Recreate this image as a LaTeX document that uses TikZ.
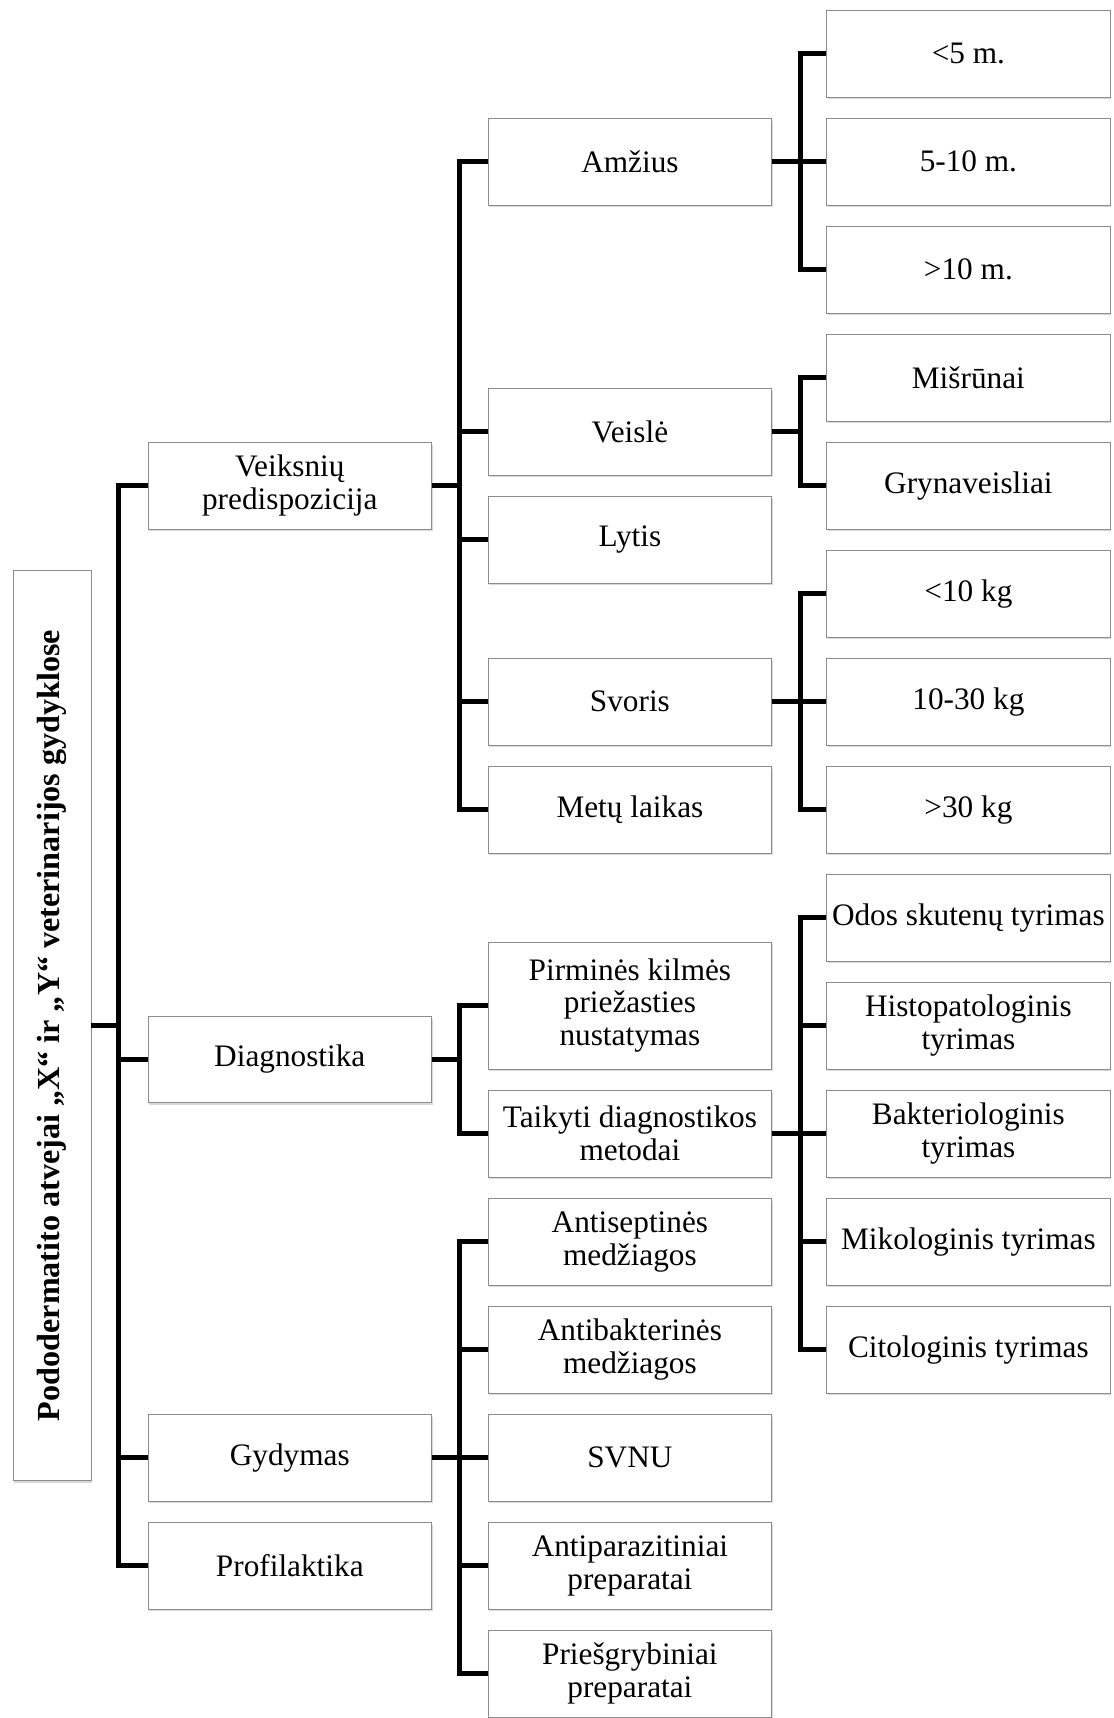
\documentclass[tikz,border=0pt]{standalone}
\usepackage{fontspec}
\setmainfont{Liberation Serif}
\usepackage{tikz}
\usetikzlibrary{positioning,shadows}

\begin{document}
\begin{tikzpicture}[
    x=0.02cm, y=-0.02cm,
    box/.style={draw=black!45, fill=white, rectangle, minimum width=5.67cm,
                minimum height=1.73cm, align=center, inner xsep=1pt,
                font=\fontsize{17.8}{18.7}\selectfont,
                drop shadow={shadow xshift=0.6pt, shadow yshift=-1.4pt, opacity=0.3}},
    rootbox/.style={box, rotate=90, minimum width=18.22cm, minimum height=1.56cm,
                font=\fontsize{18.3}{19}\selectfont\bfseries},
    link/.style={line width=2.6pt}
]
\useasboundingbox (0,0) rectangle (1113,1718);

% Root
\node[rootbox] (root) at (52,1025.4) {Pododermatito atvejai „X“ ir „Y“ veterinarijos gydyklose};

% Level 1
\node[box] (veik) at (289.8,485.7)  {Veiksnių\\predispozicija};
\node[box] (diag) at (289.8,1059.4) {Diagnostika};
\node[box] (gyd)  at (289.8,1457.7) {Gydymas};
\node[box] (prof) at (289.8,1565.7) {Profilaktika};

% Level 2
\node[box] (amz)    at (629.9,161.7)  {Amžius};
\node[box] (veisl)  at (629.9,431.7)  {Veislė};
\node[box] (lyt)    at (629.9,539.7)  {Lytis};
\node[box] (svor)   at (629.9,701.7)  {Svoris};
\node[box] (metu)   at (629.9,809.7)  {Metų laikas};
\node[box, minimum height=2.54cm] (pirm) at (629.9,1005.5)
      {Pirminės kilmės\\priežasties\\nustatymas};
\node[box] (taik)   at (629.9,1133.7) {Taikyti diagnostikos\\metodai};
\node[box] (antis)  at (629.9,1241.7) {Antiseptinės\\medžiagos};
\node[box] (antib)  at (629.9,1349.7) {Antibakterinės\\medžiagos};
\node[box] (svnu)   at (629.9,1457.7) {SVNU};
\node[box] (antip)  at (629.9,1565.7) {Antiparazitiniai\\preparatai};
\node[box] (priesg) at (629.9,1673.7) {Priešgrybiniai\\preparatai};

% Level 3
\node[box] (a1) at (968.4,53.7)   {<5 m.};
\node[box] (a2) at (968.4,161.7)  {5-10 m.};
\node[box] (a3) at (968.4,269.7)  {>10 m.};
\node[box] (v1) at (968.4,377.7)  {Mišrūnai};
\node[box] (v2) at (968.4,485.7)  {Grynaveisliai};
\node[box] (s1) at (968.4,593.7)  {<10 kg};
\node[box] (s2) at (968.4,701.7)  {10-30 kg};
\node[box] (s3) at (968.4,809.7)  {>30 kg};
\node[box] (t1) at (968.4,917.7)  {Odos skutenų tyrimas};
\node[box] (t2) at (968.4,1025.7) {Histopatologinis\\tyrimas};
\node[box] (t3) at (968.4,1133.7) {Bakteriologinis\\tyrimas};
\node[box] (t4) at (968.4,1241.7) {Mikologinis tyrimas};
\node[box] (t5) at (968.4,1349.7) {Citologinis tyrimas};

% Connectors
\foreach \c in {veik,diag,gyd,prof}
  \draw[link] (root.south) -- ++(27,0) |- (\c.west);
\foreach \c in {amz,veisl,lyt,svor,metu}
  \draw[link] (veik.east) -- ++(27.5,0) |- (\c.west);
\foreach \c in {pirm,taik}
  \draw[link] (diag.east) -- ++(27.5,0) |- (\c.west);
\foreach \c in {antis,antib,svnu,antip,priesg}
  \draw[link] (gyd.east) -- ++(27.5,0) |- (\c.west);
\foreach \c in {a1,a2,a3}
  \draw[link] (amz.east) -- ++(28.5,0) |- (\c.west);
\foreach \c in {v1,v2}
  \draw[link] (veisl.east) -- ++(28.5,0) |- (\c.west);
\foreach \c in {s1,s2,s3}
  \draw[link] (svor.east) -- ++(28.5,0) |- (\c.west);
\foreach \c in {t1,t2,t3,t4,t5}
  \draw[link] (taik.east) -- ++(28.5,0) |- (\c.west);

\end{tikzpicture}
\end{document}
